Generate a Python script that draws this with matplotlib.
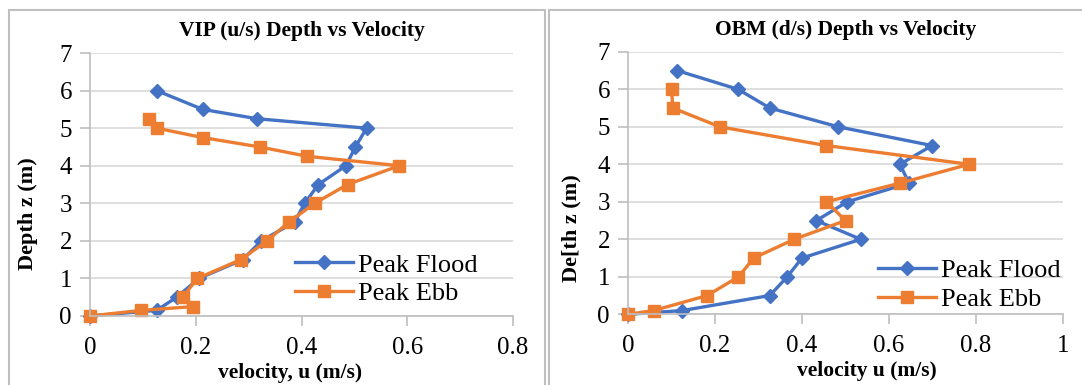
import matplotlib.pyplot as plt
from matplotlib.patches import Rectangle

plt.rcParams['font.family'] = ['Liberation Serif', 'DejaVu Serif']

# VIP (u/s) data
vip_flood_v = [0, 0.126, 0.164, 0.206, 0.289, 0.324, 0.387, 0.406, 0.432, 0.484, 0.502, 0.523, 0.316, 0.213, 0.126]
vip_flood_z = [0, 0.15, 0.5, 1, 1.5, 2, 2.5, 3, 3.5, 4, 4.5, 5, 5.25, 5.5, 6]
vip_ebb_v = [0, 0.097, 0.195, 0.175, 0.203, 0.285, 0.335, 0.376, 0.425, 0.487, 0.585, 0.411, 0.321, 0.213, 0.126, 0.112]
vip_ebb_z = [0, 0.15, 0.25, 0.5, 1, 1.5, 2, 2.5, 3, 3.5, 4, 4.25, 4.5, 4.75, 5, 5.25]

# OBM (d/s) data
obm_flood_v = [0, 0.125, 0.326, 0.366, 0.400, 0.535, 0.433, 0.504, 0.646, 0.625, 0.699, 0.483, 0.326, 0.253, 0.113]
obm_flood_z = [0, 0.1, 0.5, 1, 1.5, 2, 2.5, 3, 3.5, 4, 4.5, 5, 5.5, 6, 6.5]
obm_ebb_v = [0, 0.059, 0.182, 0.254, 0.289, 0.382, 0.500, 0.456, 0.626, 0.784, 0.456, 0.211, 0.103, 0.100]
obm_ebb_z = [0, 0.1, 0.5, 1, 1.5, 2, 2.5, 3, 3.5, 4, 4.5, 5, 5.5, 6]

BLUE = '#4472C4'
ORANGE = '#ED7D31'
GRID = '#d9d9d9'
SPINE = '#bfbfbf'

fig = plt.figure(figsize=(10.82, 3.85), dpi=100)

# panel borders (in pixels -> figure fraction)
W, H = 1082, 385
for x0, x1 in [(9, 545), (549, 1090)]:
    fig.patches.append(Rectangle((x0 / W, -0.05), (x1 - x0) / W, 1.05 - 10 / H,
                                 transform=fig.transFigure, fill=False,
                                 edgecolor='#bfbfbf', linewidth=1.5))


def style_axes(ax, xmax, xticks):
    ax.set_xlim(0, xmax)
    ax.set_ylim(0, 7)
    ax.set_xticks(xticks)
    ax.set_xticklabels([f'{t:g}' for t in xticks])
    ax.set_yticks(range(8))
    ax.grid(axis='y', color=GRID, linewidth=1.2)
    ax.set_axisbelow(True)
    for s in ['top', 'right']:
        ax.spines[s].set_visible(False)
    for s in ['left', 'bottom']:
        ax.spines[s].set_color(SPINE)
        ax.spines[s].set_linewidth(1.2)
    ax.tick_params(axis='both', labelsize=18, color=SPINE, length=7, width=1.2)
    ax.tick_params(axis='x', pad=8)
    ax.tick_params(axis='y', pad=6)
    ax.patch.set_alpha(0)


def draw(ax, fv, fz, ev, ez):
    ax.plot(fv, fz, color=BLUE, lw=2.4, marker='D', ms=7, label='Peak Flood', clip_on=False)
    ax.plot(ev, ez, color=ORANGE, lw=2.4, marker='s', ms=8, label='Peak Ebb', clip_on=False)


def place_labels(ax, xl_x, yl_x, yl_y):
    ax.xaxis.label.set_va('center')
    ax.xaxis.set_label_coords(xl_x, -57 / 263)
    ax.yaxis.label.set_va('center')
    ax.yaxis.label.set_ha('center')
    ax.yaxis.set_label_coords(yl_x, yl_y)


# left chart
ax1 = fig.add_axes([90 / W, 1 - 316 / H, (513 - 90) / W, (316 - 53) / H])
draw(ax1, vip_flood_v, vip_flood_z, vip_ebb_v, vip_ebb_z)
style_axes(ax1, 0.8, [0, 0.2, 0.4, 0.6, 0.8])
ax1.set_title('VIP (u/s) Depth vs Velocity', fontsize=15.5, fontweight='bold', pad=12)
ax1.set_xlabel('velocity, u (m/s)', fontsize=15.5, fontweight='bold')
ax1.set_ylabel('Depth z (m)', fontsize=16, fontweight='bold')
place_labels(ax1, 0.473, -0.147, 0.39)
ax1.legend(loc='lower left', bbox_to_anchor=(0.46, 0.0), frameon=False, fontsize=19,
           handlelength=2.2, handletextpad=0.2, labelspacing=0.2, borderaxespad=0)

# right chart
ax2 = fig.add_axes([628 / W, 1 - 314.3 / H, (1063 - 628) / W, (314.3 - 51.8) / H])
draw(ax2, obm_flood_v, obm_flood_z, obm_ebb_v, obm_ebb_z)
style_axes(ax2, 1.0, [0, 0.2, 0.4, 0.6, 0.8, 1.0])
ax2.set_title('OBM (d/s) Depth vs Velocity', fontsize=15.5, fontweight='bold', pad=12)
ax2.set_xlabel('velocity u (m/s)', fontsize=15.5, fontweight='bold')
ax2.set_ylabel('De[th z (m)', fontsize=16, fontweight='bold')
place_labels(ax2, 0.549, -0.129, 0.33)
ax2.legend(loc='lower left', bbox_to_anchor=(0.55, -0.027), frameon=False, fontsize=19,
           handlelength=2.2, handletextpad=0.2, labelspacing=0.2, borderaxespad=0)

fig.savefig('out.png', dpi=100, facecolor='white')
